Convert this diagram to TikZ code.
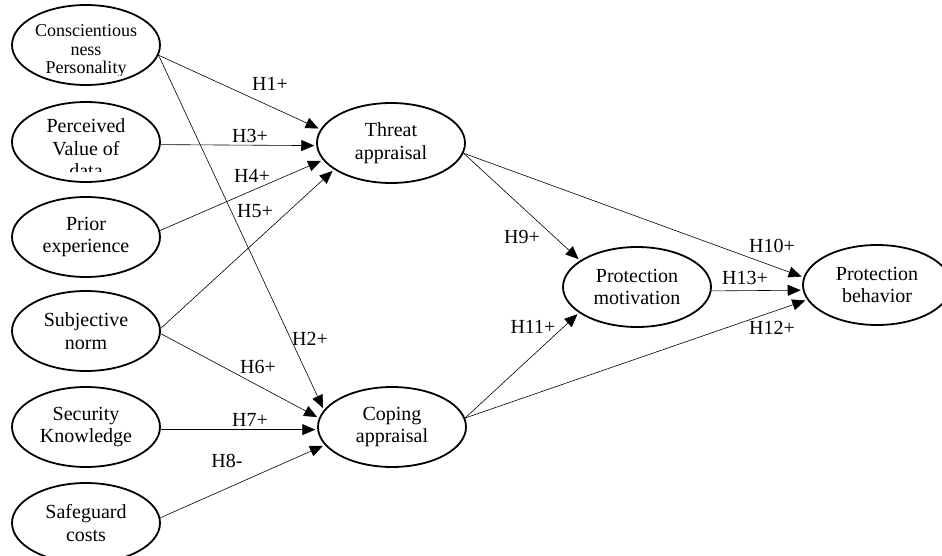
\documentclass[tikz,border=0pt]{standalone}
\usepackage{fontspec}
\setmainfont{Liberation Serif}
\usetikzlibrary{arrows.meta,shapes.geometric}
\begin{document}
\begin{tikzpicture}[x=1pt,y=-1pt,
  construct/.style={draw, ellipse, line width=1.8pt, minimum width=148pt, minimum height=80pt,
    inner sep=0pt, align=center, font=\fontsize{20}{22.5}\selectfont},
  lbl/.style={inner sep=0pt, font=\fontsize{20}{22.5}\selectfont},
  link/.style={line width=0.6pt, -{Triangle[length=13pt,width=11pt]}, shorten >=2pt}]
\useasboundingbox (0,0) rectangle (942,556);
% constructs
\node[construct] (cons)   at (86,45)  {};
\node[construct] (perc)   at (86,142) {};
\node[construct] (prior)  at (86,237) {Prior\\experience};
\node[construct] (subj)   at (86,331) {Subjective\\norm};
\node[construct] (sec)    at (86,427) {Security\\Knowledge};
\node[construct] (safe)   at (86,523) {Safeguard\\costs};
\node[construct] (threat) at (391,143) {Threat\\appraisal};
\node[construct] (coping) at (392,427) {Coping\\appraisal};
\node[construct] (motiv)  at (637,287) {Protection\\motivation};
\node[construct] (behav)  at (877,285) {Protection\\behavior};
% clipped texts
\begin{scope}
  \clip (10,18) rectangle (165,76);
  \node[lbl, align=center, font=\fontsize{18}{18.5}\selectfont] (constext) at (86,51) {Conscientious\\ness\\Personality};
\end{scope}
\begin{scope}
  \clip (10,105) rectangle (165,172);
  \node[lbl, align=center] (perctext) at (86,148.5) {Perceived\\Value of\\data};
\end{scope}
% connectors
\draw[link] (cons.-8) -- (threat.169);
\draw[link] (cons.-8) -- (coping.166);
\draw[link] (perc.-2) -- (threat.182);
\draw[link] (prior.5) -- (threat.-166);
\draw[link] (subj.2) -- (threat.-155);
\draw[link] (subj.-2) -- (coping.173);
\draw[link] (sec.-2) -- (coping.182);
\draw[link] (safe.4) -- (coping.-165);
\draw[link] (threat.-8) -- (motiv.155);
\draw[link] (threat.-8) -- (behav.174);
\draw[link] (coping.7) -- (motiv.-156);
\draw[link] (coping.7) -- (behav.-168);
\draw[link] (motiv.-3) -- (behav.184);
% labels
\node[lbl] (h1)  at (270,84)  {H1+};
\node[lbl] (h3)  at (250,136) {H3+};
\node[lbl] (h4)  at (252,176) {H4+};
\node[lbl] (h5)  at (255,211) {H5+};
\node[lbl] (h2)  at (310,339) {H2+};
\node[lbl] (h6)  at (258,367) {H6+};
\node[lbl] (h7)  at (250,420) {H7+};
\node[lbl] (h8)  at (227,461) {H8-};
\node[lbl] (h9)  at (522,237) {H9+};
\node[lbl] (h10) at (772,246) {H10+};
\node[lbl] (h13) at (745,278) {H13+};
\node[lbl] (h11) at (533,327) {H11+};
\node[lbl] (h12) at (772,328) {H12+};
\end{tikzpicture}
\end{document}
